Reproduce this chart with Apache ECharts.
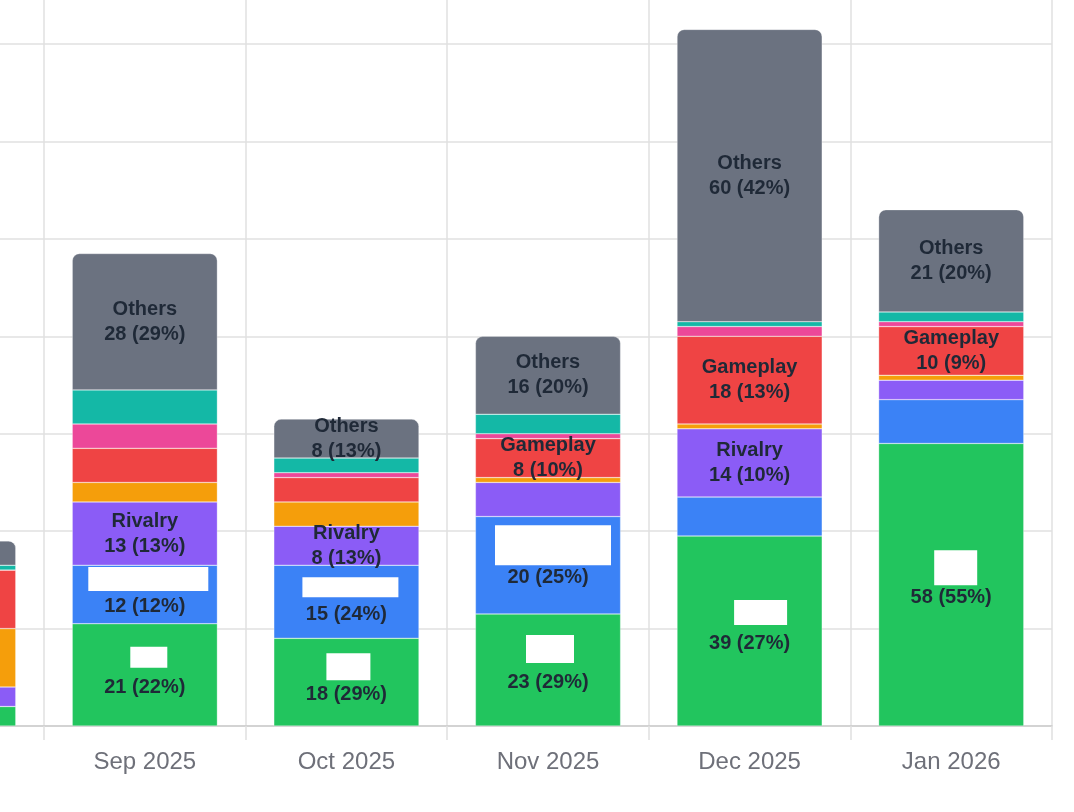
<!DOCTYPE html>
<html>
<head>
<meta charset="utf-8">
<script src="https://cdn.jsdelivr.net/npm/echarts@6/dist/echarts.min.js"></script>
<style>
html,body{margin:0;padding:0;background:#fff;}
#chart{width:1074px;height:812px;}
</style>
</head>
<body>
<div id="chart"></div>
<script>
// ---- data ----
const categories = ['Aug 2025', 'Sep 2025', 'Oct 2025', 'Nov 2025', 'Dec 2025', 'Jan 2026'];
const topicA   = [4, 21, 18, 23, 39, 58];   // green (name hidden)
const topicB   = [0, 12, 15, 20, 8, 9];     // blue (name hidden)
const rivalry  = [4, 13, 8, 7, 14, 4];      // purple
const topicC   = [12, 4, 5, 1, 1, 1];       // orange
const gameplay = [12, 7, 5, 8, 18, 10];     // red
const topicD   = [0, 5, 1, 1, 2, 1];        // pink
const topicE   = [1, 7, 3, 4, 1, 2];        // teal
const others   = [5, 28, 8, 16, 60, 21];    // gray

const seriesNames = ['Topic A', 'Topic B', 'Rivalry', 'Topic C', 'Gameplay', 'Topic D', 'Topic E', 'Others'];
const seriesData = [topicA, topicB, rivalry, topicC, gameplay, topicD, topicE, others];
// series whose name line is covered by a white box
const nameHidden = [true, true, false, false, false, false, false, false];

// ---- styles ----
const colors = ['#22c55e', '#3b82f6', '#8b5cf6', '#f59e0b', '#ef4444', '#ec4899', '#14b8a6', '#6b7280'];
// white cover box per bar: [width, height, line height of the covered line, horizontal shift]
const maskSpecs = {
  0: [[40, 24, 25, 0], [37, 21, 28, 4], [44, 27, 29, 2], [48, 28, 35, 2], [53, 25, 31, 11], [43, 35, 34.5, 4.5]],
  1: [[40, 24, 25, 0], [120, 24, 27.5, 3.5], [96, 20, 24.5, 4], [116, 40, 40, 5], [60, 24, 25, 0], [60, 24, 25, 0]]
};

const totals = categories.map((_, i) => seriesData.reduce((s, arr) => s + arr[i], 0));

const FONT = "'Liberation Sans', Arial, Helvetica, sans-serif";
const baseRich = {
  n: { fontFamily: FONT, fontSize: 20, fontWeight: 'bold', color: '#1f2937', lineHeight: 25 },
  v: { fontFamily: FONT, fontSize: 20, fontWeight: 'bold', color: '#1f2937', lineHeight: 25 }
};

const series = seriesNames.map((name, si) => {
  const rich = Object.assign({}, baseRich);
  let data = seriesData[si];
  if (nameHidden[si]) {
    maskSpecs[si].forEach((sz, di) => {
      rich['m' + di] = { width: sz[0], height: sz[1], lineHeight: sz[2], verticalAlign: 'top', backgroundColor: '#ffffff' };
      rich['s' + di] = { width: Math.max(0.01, sz[3] * 2), height: 1, lineHeight: sz[2] };
    });
    data = seriesData[si].map((v, di) => ({
      value: v,
      label: { offset: [0, 12.5 - maskSpecs[si][di][2] / 2] }
    }));
  }
  return {
    name: name,
    type: 'bar',
    stack: 'total',
    barWidth: '72%',
    data: data,
    itemStyle: {
      color: colors[si],
      borderColor: 'rgba(255,255,255,0.6)',
      borderWidth: 0.5,
      borderRadius: si === seriesNames.length - 1 ? [7, 7, 0, 0] : 0
    },
    label: {
      show: true,
      position: 'inside',
      rich: rich,
      formatter: function (p) {
        const v = seriesData[si][p.dataIndex];
        const pct = totals[p.dataIndex] ? v / totals[p.dataIndex] * 100 : 0;
        if (!(v >= 10 || pct >= 9.95)) return '';
        const first = nameHidden[si]
          ? '{s' + p.dataIndex + '|}{m' + p.dataIndex + '|}'
          : '{n|' + name + '}';
        return first + '\n{v|' + v + ' (' + Math.round(pct) + '%)}';
      }
    },
    emphasis: { disabled: true }
  };
});

const chart = echarts.init(document.getElementById('chart'), null, { renderer: 'canvas' });
chart.setOption({
  animation: false,
  backgroundColor: '#ffffff',
  grid: {
    left: -157.6,
    right: 22,
    top: -53.4,
    bottom: 86,
    containLabel: false,
    outerBoundsMode: 'none'
  },
  xAxis: {
    type: 'category',
    data: categories,
    boundaryGap: true,
    axisLine: { show: true, lineStyle: { color: '#cccccc', width: 1.5 } },
    axisTick: { show: true, length: 14, lineStyle: { color: '#e0e0e0', width: 1.5 } },
    splitLine: { show: true, lineStyle: { color: '#e0e0e0', width: 1.5 } },
    axisLabel: { fontFamily: FONT, fontSize: 24, color: '#6e7079', margin: 24 }
  },
  yAxis: {
    type: 'value',
    min: 0,
    max: 160,
    interval: 20,
    axisLabel: { show: false },
    axisLine: { show: false },
    axisTick: { show: false },
    splitLine: { show: true, lineStyle: { color: '#e0e0e0', width: 1.5 } }
  },
  series: series
});
</script>
</body>
</html>
